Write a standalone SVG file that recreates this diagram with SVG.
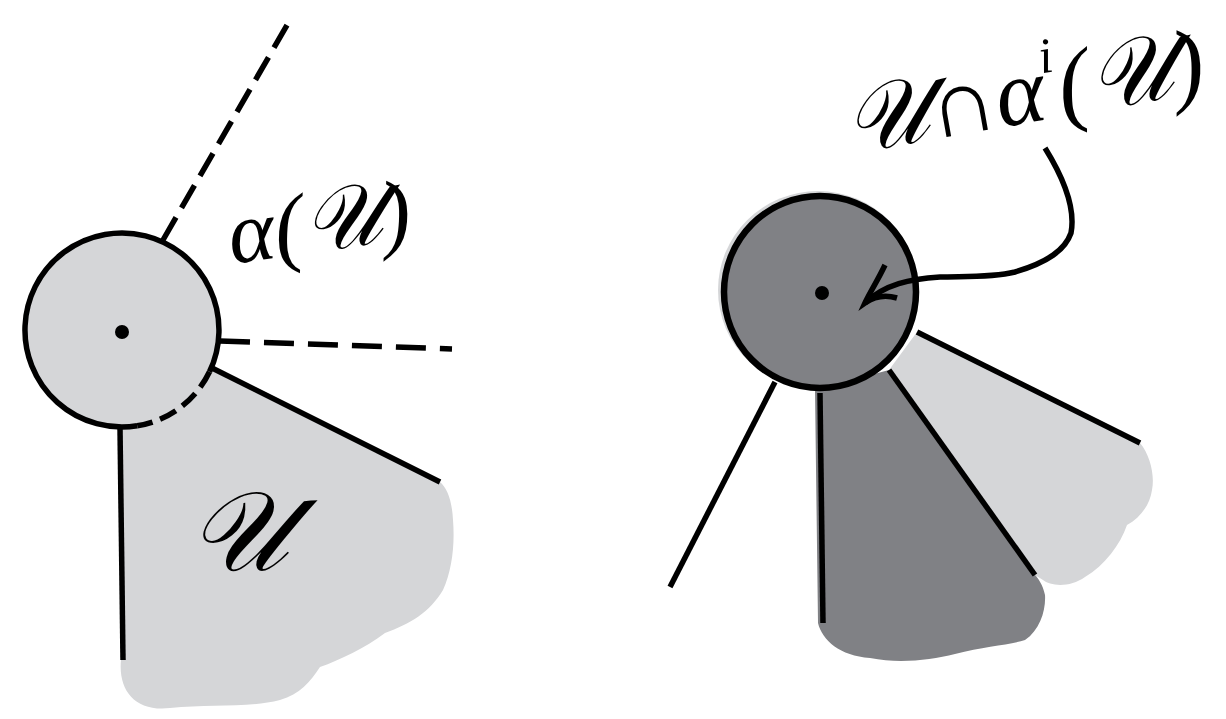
<svg xmlns="http://www.w3.org/2000/svg" width="1226" height="719" viewBox="0 0 1226 719">
<style>
.ln{fill:none;stroke:#000;stroke-width:5.5;stroke-linecap:butt}
.dash1{stroke-dasharray:26 11}
.dash2{stroke-dasharray:30 14}
.dash3{stroke-dasharray:18 8}
.lt{fill:#d5d6d8}
.dk{fill:#808185}
.hand{font-family:"Liberation Serif","DejaVu Serif",serif;font-style:italic;fill:#000}
</style>
<rect width="1226" height="719" fill="#fff"/>
<g id="left-figure">
  <path class="lt" d="M120,428 L121,660 C118,690 135,712 170,708 C210,704 250,708 280,700 C300,694 310,682 320,667 C340,660 365,648 385,633 C410,624 430,612 443,590 C452,570 455,545 453,520 C452,500 447,488 440,482 L212,368 L122,330 Z"/>
  <circle class="lt" cx="125" cy="333" r="96"/>
  <circle class="lt" cx="122" cy="330" r="97"/>
  <path class="ln" d="M137.2,425.8 A97,97 0 1 1 209.5,371.8"/>
  <path class="ln dash3" d="M209.5,371.8 A97,97 0 0 1 137.2,425.8"/>
  <circle cx="122" cy="332" r="7" fill="#000"/>
  <line class="ln dash1" x1="163" y1="240" x2="290" y2="20"/>
  <line class="ln dash2" x1="220" y1="341" x2="452" y2="349"/>
  <line class="ln" x1="212" y1="368" x2="440" y2="482"/>
  <line class="ln" x1="120" y1="428" x2="123" y2="660"/>
  <text class="hand" x="232" y="264" font-size="88" transform="rotate(-8 232 264)">α(𝒰)</text>
  <text class="hand" x="188" y="570" font-size="112">𝒰</text>
</g>
<g id="right-figure">
  <path class="lt" d="M889,370 L917,332 L1140,443 C1150,455 1155,475 1152,490 C1150,505 1140,518 1127,525 C1120,545 1105,565 1085,577 C1070,588 1050,586 1043,580 L1035,575 Z"/>
  <ellipse class="lt" cx="818" cy="290" rx="100" ry="99"/>
  <path class="dk" d="M815,390 L818,623 C822,640 840,656 870,658 C900,664 930,660 955,654 C985,646 1010,645 1025,640 C1040,630 1046,610 1045,595 C1043,585 1038,578 1035,575 L889,370 Z"/>
  <circle cx="820" cy="292" r="96" fill="#808185" stroke="#000" stroke-width="6.5"/>
  <circle cx="822" cy="293" r="7" fill="#000"/>
  <line class="ln" x1="775" y1="382" x2="670" y2="587"/>
  <line class="ln" x1="820" y1="393" x2="823" y2="623"/>
  <line class="ln" x1="889" y1="370" x2="1035" y2="575"/>
  <line class="ln" x1="917" y1="332" x2="1140" y2="443"/>
  <text class="hand" x="850" y="154" font-size="94" transform="rotate(-10 850 154)">𝒰∩α<tspan font-size="50" dy="-46">i</tspan><tspan dy="46">(𝒰)</tspan></text>
</g>
<g id="connectors">
  <path class="ln" stroke-width="4" d="M1045,148 C1063,177 1076,207 1071,233 C1065,250 1048,262 1015,272 C990,278 960,276 940,277 C910,279 885,284 865,303"/>
  <path class="ln" stroke-width="4" d="M885,265 C878,280 870,292 865,303 C875,296 887,295 897,298"/>
</g>
</svg>
